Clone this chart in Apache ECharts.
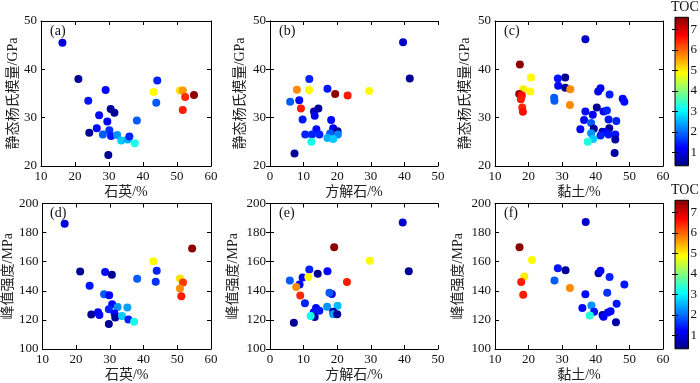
<!DOCTYPE html>
<html lang="en">
<head>
  <meta charset="UTF-8">
  <script src="https://cdn.jsdelivr.net/npm/echarts@6.0.0/dist/echarts.min.js"></script>
</head>
<body style="margin:0">
  <div id="chart" style="width:700px;height:383px;"></div>
  <script type="text/javascript">
    // (a) 石英 vs 静态杨氏模量
    var qzA = [16.3,21.0,23.9,29.0,30.5,31.6,27.1,29.5,38.2,26.4,24.2,30.1,28.2,30.6,32.4,33.6,35.5,36.0,37.6,29.8,44.2,43.9,43.1,50.9,51.7,52.4,51.7,55.0];
    var eA  = [45.5,38.0,33.5,35.7,31.8,31.0,30.5,29.2,29.4,27.8,26.9,27.4,26.5,26.2,26.4,25.3,25.5,26.1,24.7,22.3,37.7,33.1,35.3,35.6,35.6,34.3,31.6,34.7];
    var tocA = [1.0,0.5,1.4,1.3,0.5,0.5,1.3,1.2,1.9,1.3,0.5,1.6,1.9,1.4,2.3,2.7,2.5,1.5,3.2,0.5,1.5,1.9,4.9,5.1,5.6,6.4,6.5,7.5];

    // (b) 方解石 vs 静态杨氏模量
    var calB = [39.6,41.6,11.7,8.0,11.6,17.1,19.4,23.1,29.5,6.0,8.7,9.2,14.4,13.1,13.3,9.7,18.2,13.8,18.8,20.1,10.5,12.5,14.7,17.9,20.2,17.1,18.8,12.3,7.3];
    var eB   = [45.6,38.1,38.0,35.8,35.7,36.0,34.9,34.6,35.5,33.3,33.6,31.9,31.9,31.3,30.4,29.6,29.5,27.6,27.8,27.2,26.5,26.5,26.5,26.7,26.5,25.8,25.6,25.0,22.6];
    var tocB = [0.9,0.5,1.5,5.7,4.9,1.4,7.5,6.5,4.9,1.9,1.3,6.5,0.5,0.7,1.2,1.4,1.3,1.3,1.2,0.5,1.5,1.5,1.5,1.9,2.2,2.5,2.7,3.2,0.5];

    // (c) 黏土 vs 静态杨氏模量
    var clayC = [36.9,17.4,20.7,18.4,20.5,17.2,18.0,17.7,18.1,18.3,28.7,30.9,28.8,30.9,32.4,27.6,27.7,32.3,40.7,41.4,44.1,48.0,48.5,36.9,40.3,42.3,43.3,39.1,36.5,38.6,43.8,46.1,35.4,39.4,44.0,42.0,42.8,38.6,41.4,43.8,45.8,39.2,45.8,37.6,45.6];
    var eC    = [46.2,41.0,38.3,35.9,35.4,34.9,34.6,33.8,32.1,31.2,38.1,38.3,36.6,36.2,35.9,34.1,33.5,32.6,35.4,36.1,34.8,33.9,33.3,31.3,32.1,31.3,31.5,30.6,29.5,28.9,29.6,29.3,27.6,27.7,27.8,27.1,27.0,26.8,26.3,26.5,26.5,25.6,25.5,25.0,22.7];
    var tocC  = [0.9,7.5,4.9,5.0,4.9,7.4,6.6,6.5,6.4,6.6,1.4,0.5,1.3,0.5,5.7,1.9,1.9,5.7,1.1,1.2,1.5,1.3,1.3,1.3,0.5,1.2,1.5,1.2,1.3,1.9,1.4,1.5,1.3,0.5,0.5,0.5,1.2,2.3,1.5,1.4,1.4,2.7,0.6,3.3,0.6];

    // (d) 石英 vs 峰值强度
    var qzD = [16.6,21.2,24.0,28.6,30.6,38.1,42.9,43.9,43.6,50.8,51.7,50.8,51.2,54.4,28.3,29.8,30.7,32.3,35.2,29.7,31.4,31.6,33.6,35.5,37.2,24.5,26.5,26.9,29.7];
    var pD  = [186.1,153.2,143.4,153.0,151.1,148.2,160.3,153.7,146.3,148.4,145.7,141.6,136.3,169.0,137.7,137.0,130.8,128.8,128.5,127.4,124.4,121.7,122.6,120.3,118.7,123.7,125.3,123.3,117.1];
    var tocD = [1.0,0.5,1.4,1.3,0.5,1.9,4.9,1.5,1.6,5.1,6.3,5.7,6.5,7.5,1.9,1.3,1.3,2.3,2.4,1.5,1.3,0.6,2.7,1.5,3.2,0.5,1.3,1.3,0.5];

    // (e) 方解石 vs 峰值强度
    var calE = [39.5,19.1,29.7,41.3,11.7,14.2,17.1,9.7,11.4,5.9,8.8,7.8,22.9,9.0,18.4,17.7,10.4,13.7,17.0,20.1,13.0,14.7,18.8,18.8,20.0,13.3,12.1,7.1];
    var pE   = [187.0,170.0,160.6,153.5,154.7,151.7,153.5,149.2,149.4,147.1,144.4,142.6,146.0,136.8,137.8,138.7,131.4,128.1,129.1,129.8,125.2,126.3,125.6,123.8,123.8,122.0,122.7,118.1];
    var tocE = [0.9,7.5,4.9,0.5,1.5,0.5,1.3,1.3,4.9,1.9,1.3,5.7,6.5,6.4,1.1,1.9,1.5,1.3,2.3,2.6,1.4,1.4,0.5,2.4,0.5,0.6,3.2,0.5];

    // (f) 黏土 vs 峰值强度
    var clayF = [37.0,17.3,21.0,28.7,31.0,18.7,17.8,18.4,27.7,32.3,40.8,41.4,44.1,48.5,36.9,43.4,46.2,36.0,38.7,39.5,42.0,42.3,43.6,44.4,38.2,46.0];
    var pF    = [187.2,169.9,161.2,155.5,154.1,149.8,146.1,137.2,147.0,142.0,152.1,153.7,149.5,144.3,137.7,138.6,131.1,128.1,129.9,125.6,123.3,122.1,125.1,126.0,123.1,118.3];
    var tocF  = [0.9,7.5,4.9,1.4,0.5,5.0,6.5,6.5,1.9,5.7,0.6,1.2,1.5,1.4,1.3,1.6,1.4,1.3,2.3,1.4,0.5,1.2,1.3,1.3,3.3,0.6];

    var tocMin = 0.35, tocMax = 7.6;
    var tocTicks = [1, 2, 3, 4, 5, 6, 7];
    var jet = ['#000080','#0000ff','#0080ff','#00ffff','#80ff80','#ffff00','#ff8000','#ff0000','#800000'];

    var panels = [
      {x: qzA, y: eA, c: tocA, tag: '(a)', xName: '石英/%', yName: '静态杨氏模量/GPa', xr: [10, 60], yr: [20, 50], yi: 10, row: 0, col: 0},
      {x: calB, y: eB, c: tocB, tag: '(b)', xName: '方解石/%', yName: '静态杨氏模量/GPa', xr: [0, 50], yr: [20, 50], yi: 10, row: 0, col: 1},
      {x: clayC, y: eC, c: tocC, tag: '(c)', xName: '黏土/%', yName: '静态杨氏模量/GPa', xr: [10, 60], yr: [20, 50], yi: 10, row: 0, col: 2},
      {x: qzD, y: pD, c: tocD, tag: '(d)', xName: '石英/%', yName: '峰值强度/MPa', xr: [10, 60], yr: [100, 200], yi: 20, row: 1, col: 0},
      {x: calE, y: pE, c: tocE, tag: '(e)', xName: '方解石/%', yName: '峰值强度/MPa', xr: [0, 50], yr: [100, 200], yi: 20, row: 1, col: 1},
      {x: clayF, y: pF, c: tocF, tag: '(f)', xName: '黏土/%', yName: '峰值强度/MPa', xr: [10, 60], yr: [100, 200], yi: 20, row: 1, col: 2}
    ];

    var serif = "'Liberation Serif', 'Times New Roman', 'Noto Sans CJK SC', serif";
    var colLeft = [41, 270, 495];
    var colWidth = [170, 168, 168];
    var rowTop = [21, 203.5];
    var rowHeight = [145, 146];
    var yGap = [[21, 23, 23], [26, 30, 30]];

    var grids = [], xAxes = [], yAxes = [], series = [], titles = [];

    panels.forEach(function (p, i) {
      grids.push({left: colLeft[p.col], top: rowTop[p.row], width: colWidth[p.col], height: rowHeight[p.row], show: false});
      var tick = {show: true, inside: true, length: 4, lineStyle: {color: '#000'}};
      var line = {show: true, lineStyle: {color: '#000', width: 1}};
      xAxes.push({
        gridIndex: i, type: 'value', min: p.xr[0], max: p.xr[1], interval: 10,
        name: p.xName, nameLocation: 'middle', nameGap: 19,
        nameTextStyle: {fontFamily: serif, fontSize: 14, color: '#222'},
        axisLine: line, axisTick: tick, splitLine: {show: false},
        axisLabel: {fontFamily: serif, fontSize: 13, color: '#111', margin: 4}
      });
      xAxes.push({
        gridIndex: i, type: 'value', position: 'top', min: p.xr[0], max: p.xr[1], interval: 10,
        axisLine: line, axisTick: tick, splitLine: {show: false}, axisLabel: {show: false}
      });
      yAxes.push({
        gridIndex: i, type: 'value', min: p.yr[0], max: p.yr[1], interval: p.yi,
        name: p.yName, nameLocation: 'middle', nameGap: yGap[p.row][p.col],
        nameTextStyle: {fontFamily: serif, fontSize: 14, color: '#222'},
        axisLine: line, axisTick: tick, splitLine: {show: false},
        axisLabel: {fontFamily: serif, fontSize: 13, color: '#111', margin: 4}
      });
      yAxes.push({
        gridIndex: i, type: 'value', position: 'right', min: p.yr[0], max: p.yr[1], interval: p.yi,
        axisLine: line, axisTick: tick, splitLine: {show: false}, axisLabel: {show: false}
      });
      series.push({
        type: 'scatter', xAxisIndex: 2 * i, yAxisIndex: 2 * i,
        symbolSize: 8, itemStyle: {opacity: 1},
        data: p.x.map(function (v, k) { return [v, p.y[k], p.c[k]]; })
      });
      titles.push({
        text: p.tag, left: colLeft[p.col] + 4, top: rowTop[p.row] - 2,
        textStyle: {fontFamily: serif, fontSize: 14, fontWeight: 'normal', color: '#111'}
      });
    });

    // colour bars: a small grid filled with the jet gradient, TOC ticks on both sides
    var barTop = [17.3, 200.3];
    var barH = [148.5, 148.5];
    var stops = jet.map(function (c, k) { return {offset: k / (jet.length - 1), color: c}; });
    var visualMaps = [];
    [0, 1].forEach(function (r) {
      var gi = grids.length;
      grids.push({left: 675, top: barTop[r], width: 16, height: barH[r], show: true,
        borderColor: '#000', borderWidth: 1,
        backgroundColor: new echarts.graphic.LinearGradient(0, 1, 0, 0, stops)});
      xAxes.push({gridIndex: gi, type: 'value', min: 0, max: 1, show: false});
      var cbTick = {show: true, inside: true, length: 3, customValues: tocTicks, lineStyle: {color: '#000'}};
      yAxes.push({
        gridIndex: gi, type: 'value', position: 'right', min: tocMin, max: tocMax,
        axisLine: {show: false}, splitLine: {show: false}, axisTick: cbTick,
        axisLabel: {fontFamily: serif, fontSize: 13, color: '#111', margin: 2, customValues: tocTicks}
      });
      yAxes.push({
        gridIndex: gi, type: 'value', position: 'left', min: tocMin, max: tocMax,
        axisLine: {show: false}, splitLine: {show: false}, axisTick: cbTick,
        axisLabel: {show: false}
      });
      titles.push({
        text: 'TOC', left: 666, top: barTop[r] - 22,
        textStyle: {fontFamily: serif, fontSize: 14, fontWeight: 'normal', color: '#111'}
      });
      visualMaps.push({
        type: 'continuous', show: false, min: tocMin, max: tocMax, dimension: 2,
        seriesIndex: r === 0 ? [0, 1, 2] : [3, 4, 5],
        inRange: {color: jet}
      });
    });

    var chart = echarts.init(document.getElementById('chart'));
    chart.setOption({
      backgroundColor: '#fff',
      animation: false,
      title: titles,
      grid: grids,
      xAxis: xAxes,
      yAxis: yAxes,
      visualMap: visualMaps,
      series: series
    });
  </script>
</body>
</html>
